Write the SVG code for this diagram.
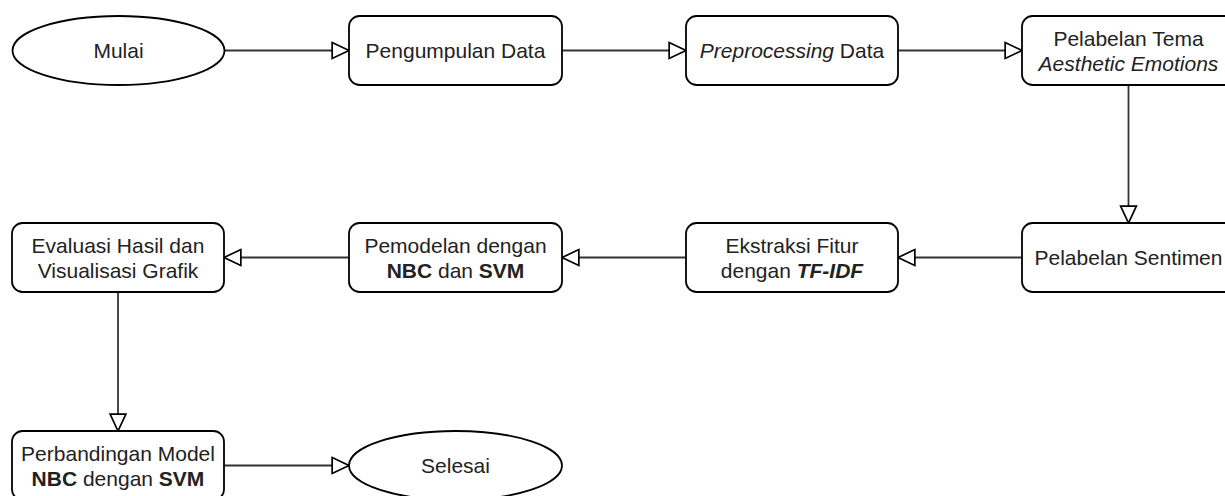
<svg xmlns="http://www.w3.org/2000/svg" width="1225" height="496" viewBox="0 0 1225 496">
  <style>
    .box { fill: #ffffff; stroke: #000000; stroke-width: 1.8; }
    .lbl { font-family: "Liberation Sans", Arial, sans-serif; font-size: 21px; fill: #222222; text-anchor: middle; }
    .edge { fill: none; stroke: #333333; stroke-width: 1.8; }
  </style>
  <defs>
    <marker id="arr" markerUnits="userSpaceOnUse" markerWidth="20" markerHeight="20" viewBox="-1 -1 19 18" refX="16" refY="7.5" orient="auto">
      <path d="M0,0 L16,7.5 L0,15 Z" fill="#ffffff" stroke="#000000" stroke-width="1.6"/>
    </marker>
  </defs>
  <rect width="1225" height="496" fill="#ffffff"/>

  <g id="connectors">
    <line class="edge" x1="224.5" y1="50.5" x2="349" y2="50.5" marker-end="url(#arr)"/>
    <line class="edge" x1="562" y1="50.5" x2="686" y2="50.5" marker-end="url(#arr)"/>
    <line class="edge" x1="898" y1="50.5" x2="1022" y2="50.5" marker-end="url(#arr)"/>
    <line class="edge" x1="1128.5" y1="85.5" x2="1128.5" y2="223" marker-end="url(#arr)"/>
    <line class="edge" x1="1022" y1="257.5" x2="898" y2="257.5" marker-end="url(#arr)"/>
    <line class="edge" x1="686" y1="257.5" x2="562" y2="257.5" marker-end="url(#arr)"/>
    <line class="edge" x1="349" y1="257.5" x2="224" y2="257.5" marker-end="url(#arr)"/>
    <line class="edge" x1="118" y1="292" x2="118" y2="431" marker-end="url(#arr)"/>
    <line class="edge" x1="224" y1="465.5" x2="349" y2="465.5" marker-end="url(#arr)"/>
  </g>

  <g id="mulai">
    <ellipse class="box" cx="118.5" cy="50.5" rx="106" ry="34.5"/>
    <text class="lbl" x="118.5" y="58">Mulai</text>
  </g>
  <g id="pengumpulan">
    <rect class="box" x="349" y="16" width="213" height="69" rx="10.6"/>
    <text class="lbl" x="455.5" y="58">Pengumpulan Data</text>
  </g>
  <g id="preprocessing">
    <rect class="box" x="686" y="16" width="212" height="69" rx="10.6"/>
    <text class="lbl" x="792" y="58"><tspan font-style="italic">Preprocessing</tspan> Data</text>
  </g>
  <g id="tema">
    <rect class="box" x="1022" y="16" width="213" height="69" rx="10.6"/>
    <text class="lbl" x="1128.5" y="45.5">Pelabelan Tema</text>
    <text class="lbl" x="1128.5" y="70.5" font-style="italic">Aesthetic Emotions</text>
  </g>
  <g id="sentimen">
    <rect class="box" x="1022" y="223" width="213" height="69" rx="10.6"/>
    <text class="lbl" x="1128.5" y="265">Pelabelan Sentimen</text>
  </g>
  <g id="ekstraksi">
    <rect class="box" x="686" y="223" width="212" height="69" rx="10.6"/>
    <text class="lbl" x="792" y="252.5">Ekstraksi Fitur</text>
    <text class="lbl" x="792" y="277.5">dengan <tspan font-weight="bold" font-style="italic">TF-IDF</tspan></text>
  </g>
  <g id="pemodelan">
    <rect class="box" x="349" y="223" width="213" height="69" rx="10.6"/>
    <text class="lbl" x="455.5" y="252.5">Pemodelan dengan</text>
    <text class="lbl" x="455.5" y="277.5"><tspan font-weight="bold">NBC</tspan> dan <tspan font-weight="bold">SVM</tspan></text>
  </g>
  <g id="evaluasi">
    <rect class="box" x="12" y="223" width="212" height="69" rx="10.6"/>
    <text class="lbl" x="118" y="252.5">Evaluasi Hasil dan</text>
    <text class="lbl" x="118" y="277.5">Visualisasi Grafik</text>
  </g>
  <g id="perbandingan">
    <rect class="box" x="12" y="431" width="212" height="69" rx="10.6"/>
    <text class="lbl" x="118" y="460.5">Perbandingan Model</text>
    <text class="lbl" x="118" y="485.5"><tspan font-weight="bold">NBC</tspan> dengan <tspan font-weight="bold">SVM</tspan></text>
  </g>
  <g id="selesai">
    <ellipse class="box" cx="455.5" cy="465.5" rx="106.5" ry="34.5"/>
    <text class="lbl" x="455.5" y="473">Selesai</text>
  </g>
</svg>
